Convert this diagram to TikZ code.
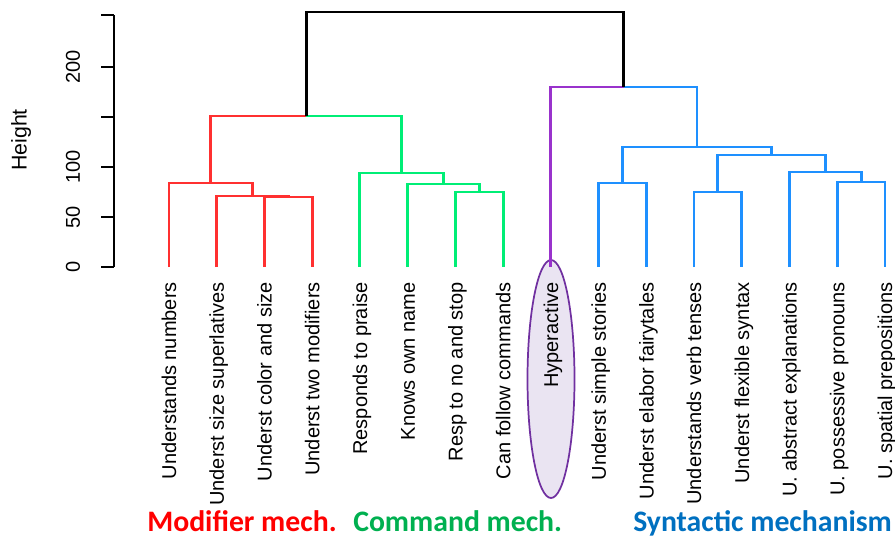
\documentclass[tikz,border=0pt]{standalone}
\usepackage{fontspec}
\setmainfont{Liberation Sans}
\newfontfamily\calibri{Carlito}
\usetikzlibrary{shapes.geometric,positioning}
\definecolor{modcolor}{RGB}{255,48,48}
\definecolor{cmdcolor}{RGB}{0,238,118}
\definecolor{hypcolor}{RGB}{153,50,204}
\definecolor{syncolor}{RGB}{30,144,255}
\definecolor{modtext}{RGB}{255,0,0}
\definecolor{cmdtext}{RGB}{0,176,80}
\definecolor{syntext}{RGB}{0,112,192}
\definecolor{ovalfill}{RGB}{234,228,242}
\definecolor{ovaldraw}{RGB}{112,48,160}

\begin{document}
\begin{tikzpicture}[%
    x=0.75pt, y=0.75pt,         % one unit = one pixel across, one unit of height up
    line join=miter,
    node distance=11.25pt,      % gap between a leaf tip and its label
    ]
\tikzset{
  branch/.style={line width=2.2pt},
  modline/.style={branch, modcolor},
  cmdline/.style={branch, cmdcolor},
  hypline/.style={branch, hypcolor},
  synline/.style={branch, syncolor},
  topline/.style={branch, black},
  leaf/.style={xshift=1.8pt, rotate=90, anchor=east, inner sep=0pt, font=\fontsize{15}{15}\selectfont,
    text height=0.72em, text depth=0pt},
  tick/.style={rotate=90, inner sep=0pt, font=\fontsize{15}{15}\selectfont},
  group/.style={anchor=base west, inner sep=0pt, text depth=0pt,
    font=\calibri\bfseries\fontsize{22.3}{22.3}\selectfont},
}
\useasboundingbox (0,-270) rectangle (895,267);

% axis
\coordinate (a0) at (114,0);
\coordinate (a1) at (114,252);
\draw[line width=1.3pt] (a0) -- (a1);
\draw[line width=1.3pt] (101,0) -- (a0) (101,50) -- (114,50) (101,100) -- (114,100)
  (101,150) -- (114,150) (101,200) -- (114,200) (101,252) -- (a1);
\node[tick] (t0) at (73,0) {0};
\node[tick] (t1) at (73,50) {50};
\node[tick] (t2) at (73,100) {100};
\node[tick] (t3) at (73,200) {200};
\node[tick, font=\fontsize{16}{16}\selectfont] (ylab) at (21,127) {Height};

% oval round the single item
\node[ellipse, draw=ovaldraw, fill=ovalfill, line width=1.3pt,
  minimum width=35.25pt, minimum height=178.5pt] (oval) at (551,-112) {};

% leaves
\coordinate (l1) at (169,0);
\coordinate (l2) at (216.7,0);
\coordinate (l3) at (264.5,0);
\coordinate (l4) at (312.2,0);
\coordinate (l5) at (359.9,0);
\coordinate (l6) at (407.7,0);
\coordinate (l7) at (455.4,0);
\coordinate (l8) at (503.1,0);
\coordinate (l9) at (550.8,0);
\coordinate (l10) at (598.6,0);
\coordinate (l11) at (646.3,0);
\coordinate (l12) at (694,0);
\coordinate (l13) at (741.8,0);
\coordinate (l14) at (789.5,0);
\coordinate (l15) at (837.2,0);
\coordinate (l16) at (885,0);

\node[below=of l1, leaf] (n1) {Understands numbers};
\node[below=of l2, leaf] (n2) {Underst size superlatives};
\node[below=of l3, leaf] (n3) {Underst color and size};
\node[below=of l4, leaf] (n4) {Underst two modifiers};
\node[below=of l5, leaf] (n5) {Responds to praise};
\node[below=of l6, leaf] (n6) {Knows own name};
\node[below=of l7, leaf] (n7) {Resp to no and stop};
\node[below=of l8, leaf] (n8) {Can follow commands};
\node[below=of l9, leaf] (n9) {Hyperactive};
\node[below=of l10, leaf] (n10) {Underst simple stories};
\node[below=of l11, leaf] (n11) {Underst elabor fairytales};
\node[below=of l12, leaf] (n12) {Understands verb tenses};
\node[below=of l13, leaf] (n13) {Underst flexible syntax};
\node[below=of l14, leaf] (n14) {U. abstract explanations};
\node[below=of l15, leaf] (n15) {U. possessive pronouns};
\node[below=of l16, leaf] (n16) {U. spatial prepositions};

% merges
\coordinate (m1) at (288.4,70);
\coordinate (m2) at (252.5,71);
\coordinate (m3) at (210.8,84);
\coordinate (m4) at (479.3,75);
\coordinate (m5) at (443.5,83);
\coordinate (m6) at (401.7,94);
\coordinate (m7) at (306.2,151);
\coordinate (m8) at (622.5,84);
\coordinate (m9) at (717.9,75);
\coordinate (m10) at (861.1,85);
\coordinate (m11) at (825.3,95);
\coordinate (m12) at (771.6,112);
\coordinate (m13) at (697,120);
\coordinate (m14) at (623.9,180);
\coordinate (m15) at (465.1,255);

\draw[modline] (l3) |- (m1) -| (l4);
\draw[modline] (l2) |- (m2) -| (m1);
\draw[modline] (l1) |- (m3) -| (m2);
\draw[cmdline] (l7) |- (m4) -| (l8);
\draw[cmdline] (l6) |- (m5) -| (m4);
\draw[cmdline] (l5) |- (m6) -| (m5);
\draw[modline] (m3) |- (m7);
\draw[cmdline] (m7) -| (m6);
\draw[synline] (l10) |- (m8) -| (l11);
\draw[synline] (l12) |- (m9) -| (l13);
\draw[synline] (l15) |- (m10) -| (l16);
\draw[synline] (l14) |- (m11) -| (m10);
\draw[synline] (m9) |- (m12) -| (m11);
\draw[synline] (m8) |- (m13) -| (m12);
\draw[hypline] (l9) |- (m14);
\draw[synline] (m14) -| (m13);
\draw[topline] (m7) |- (m15) -| (m14);

% group names
\node[group, modtext] (g1) at (147,-264) {Modifier mech.};
\node[group, cmdtext] (g2) at (353,-264) {Command mech.};
\node[group, syntext] (g3) at (633,-264) {Syntactic mechanism};

\end{tikzpicture}
\end{document}
